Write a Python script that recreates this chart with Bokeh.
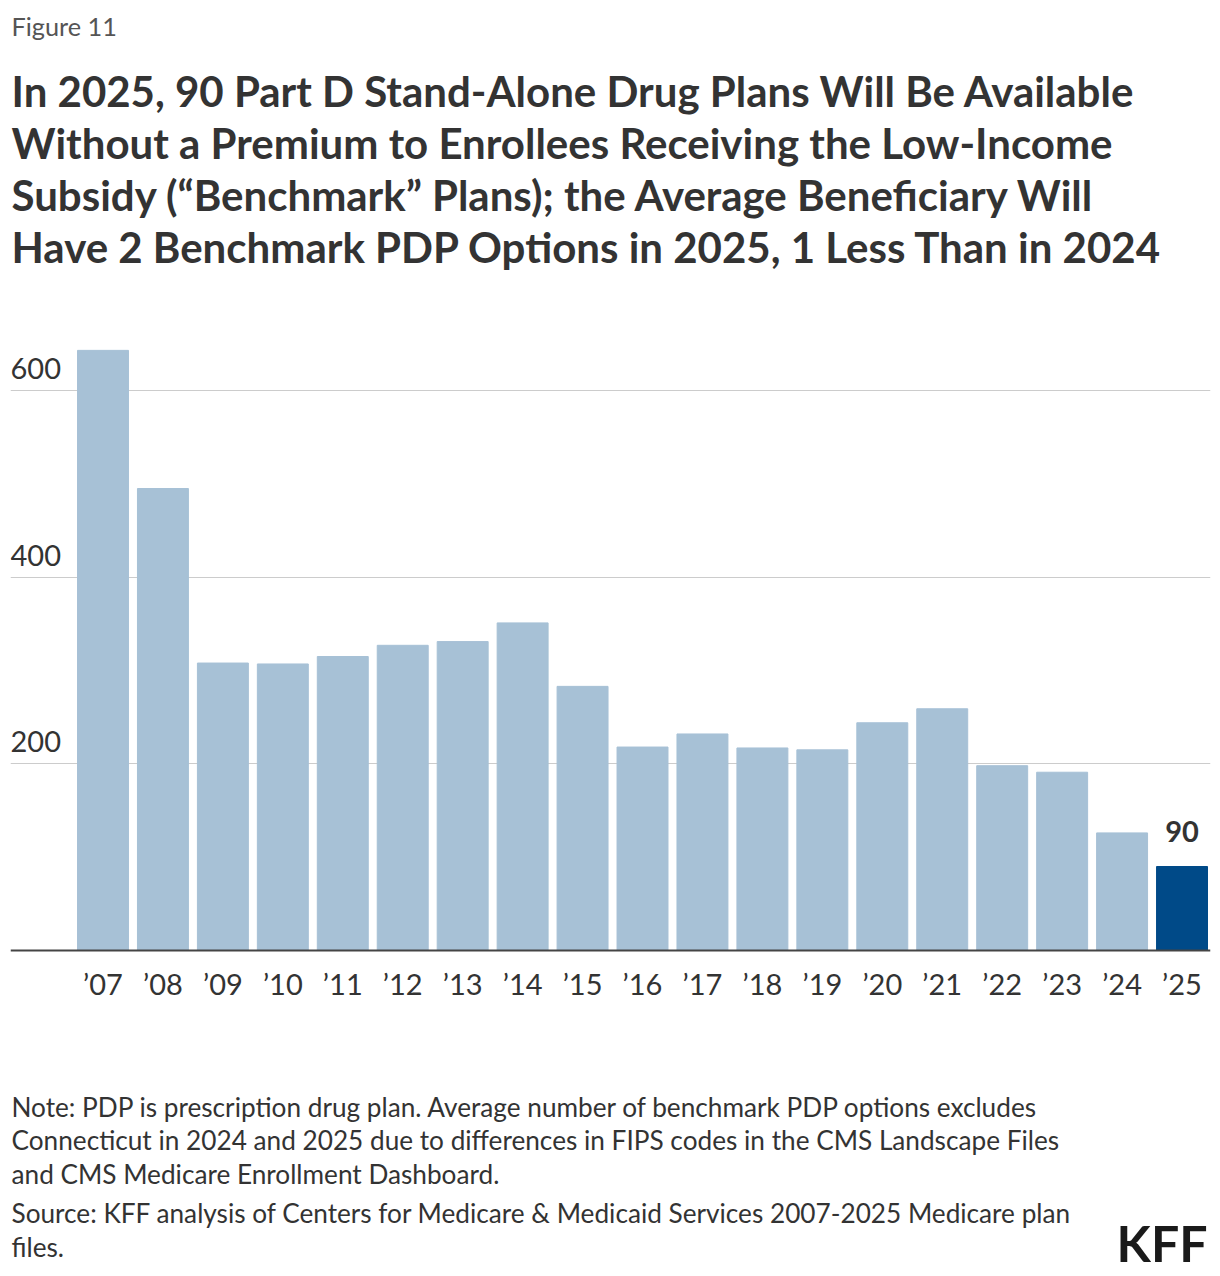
from bokeh.plotting import figure
from bokeh.models import Range1d, FixedTicker, Label, ColumnDataSource, Span
from bokeh.core.properties import value
from bokeh.embed import file_html
from bokeh.resources import INLINE

# ---- data ----
years = ["’07", "’08", "’09", "’10", "’11", "’12", "’13", "’14", "’15", "’16",
         "’17", "’18", "’19", "’20", "’21", "’22", "’23", "’24", "’25"]
plans = [643, 495, 308, 307, 315, 327, 331, 351, 283, 218,
         232, 217, 215, 244, 259, 198, 191, 126, 90]
y_ticks = [200, 400, 600]
highlight_label = "90"

title_lines = [
    "In 2025, 90 Part D Stand-Alone Drug Plans Will Be Available",
    "Without a Premium to Enrollees Receiving the Low-Income",
    "Subsidy (“Benchmark” Plans); the Average Beneficiary Will",
    "Have 2 Benchmark PDP Options in 2025, 1 Less Than in 2024",
]
note_lines = [
    "Note: PDP is prescription drug plan. Average number of benchmark PDP options excludes",
    "Connecticut in 2024 and 2025 due to differences in FIPS codes in the CMS Landscape Files",
    "and CMS Medicare Enrollment Dashboard.",
]
source_lines = [
    "Source: KFF analysis of Centers for Medicare & Medicaid Services 2007-2025 Medicare plan",
    "files.",
]

LIGHT = "#a7c1d6"
DARK = "#004a88"
TXT = "#333333"
FONT = "Lato"

W, H = 1212, 1274
BASE_Y = 950          # pixel row of the zero line
PX_PER_UNIT = 560 / 600

idx = list(range(len(years)))
colors = [LIGHT] * (len(years) - 1) + [DARK]
src = ColumnDataSource(dict(x=idx, top=plans, color=colors))

x_start = -1.543
p = figure(width=W, height=H,
           x_range=Range1d(x_start, len(years) - 1 + 0.475),
           y_range=Range1d(-(H - BASE_Y) / PX_PER_UNIT, BASE_Y / PX_PER_UNIT),
           output_backend="svg", toolbar_location=None,
           x_axis_location=None, y_axis_location=None,
           min_border_left=10, min_border_right=2,
           min_border_top=0, min_border_bottom=0)
p.outline_line_color = None
p.background_fill_color = "white"
p.border_fill_color = "white"

p.xgrid.visible = False
p.ygrid.ticker = FixedTicker(ticks=y_ticks)
p.ygrid.grid_line_color = "#cccccc"
p.ygrid.grid_line_width = 1

p.vbar(x="x", top="top", width=0.85, color="color", source=src)
p.add_layout(Span(location=0, dimension="width", line_color="#444444", line_width=2))

def corr(size):
    return round(0.4 * size)

# x category labels under the zero line
p.text(x=idx, y=[0] * len(idx), text=years,
       text_font=value(FONT), text_font_size="29px", text_color=TXT,
       text_align="center", text_baseline="alphabetic", y_offset=45 - corr(29))

# y tick labels sitting above gridlines
p.text(x=[x_start] * len(y_ticks), y=y_ticks, text=[str(t) for t in y_ticks],
       text_font=value(FONT), text_font_size="29px", text_color=TXT,
       text_align="left", text_baseline="alphabetic", x_offset=0, y_offset=-10 - corr(29))

# value label on last bar
p.text(x=[idx[-1]], y=[plans[-1]], text=[highlight_label],
       text_font=value(FONT), text_font_size="29px", text_font_style="bold",
       text_color=TXT, text_align="center", text_baseline="alphabetic",
       y_offset=-23 - corr(29))

def add_label(text, page_x, page_baseline, size, style="normal", color=TXT, align="left"):
    p.add_layout(Label(x=page_x - 10, y=H - page_baseline + corr(size),
                       x_units="screen", y_units="screen", text=text,
                       text_font=FONT, text_font_size=f"{size}px", text_font_style=style,
                       text_color=color, text_align=align, text_baseline="alphabetic"))

add_label("Figure 11", 11, 35, 25.3, color="#555555")
for i, line in enumerate(title_lines):
    add_label(line, 11, 107 + i * 52.3, 42, style="bold")
for i, line in enumerate(note_lines):
    add_label(line, 11, 1116 + i * 33.5, 26.2)
for i, line in enumerate(source_lines):
    add_label(line, 11, 1222 + i * 34, 26.2)
add_label("KFF", 1207, 1262, 50, style="bold", color="#1a1a1a", align="right")

open("out.html", "w").write(file_html(p, INLINE))
